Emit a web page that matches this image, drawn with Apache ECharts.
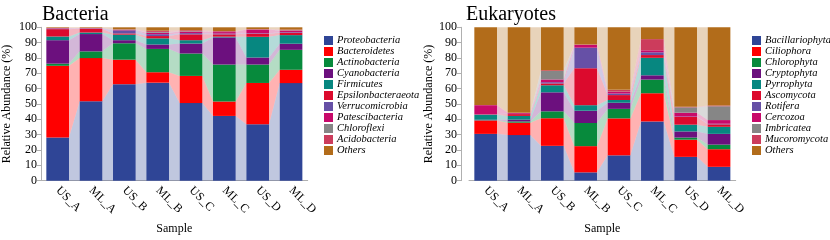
<!DOCTYPE html>
<html>
<head>
<meta charset="utf-8">
<title>Bacteria / Eukaryotes</title>
<script src="https://cdn.jsdelivr.net/npm/echarts@6/dist/echarts.min.js"></script>
<style>
    html, body { margin: 0; padding: 0; background: #fff; }
    #chart { width: 830px; height: 240px; }
</style>
</head>
<body>
<div id="chart"></div>
<script>
var samples = [ 'US_A', 'ML_A', 'US_B', 'ML_B', 'US_C', 'ML_C', 'US_D', 'ML_D' ];
var yTicks = [ 0, 10, 20, 30, 40, 50, 60, 70, 80, 90, 100 ];

// bacteria, % per sample
var bacNames = [ 'Proteobacteria', 'Bacteroidetes', 'Actinobacteria', 'Cyanobacteria', 'Firmicutes',
    'Epsilonbacteraeota', 'Verrucomicrobia', 'Patescibacteria', 'Chloroflexi', 'Acidobacteria', 'Others' ];
var proteobacteria = [ 28.1, 51.8, 62.9, 63.9, 50.6, 42.2, 36.7, 63.6 ];
var bacteroidetes = [ 46.8, 28.1, 16.0, 6.8, 17.7, 9.4, 27.0, 8.7 ];
var actinobacteria = [ 1.4, 4.4, 10.7, 15.2, 14.6, 24.1, 12.0, 13.0 ];
var cyanobacteria = [ 15.3, 11.3, 2.0, 2.9, 6.5, 17.7, 4.6, 4.0 ];
var firmicutes = [ 2.4, 1.0, 3.6, 4.0, 2.2, 0.5, 13.5, 5.6 ];
var epsilonbacteraeota = [ 4.8, 2.4, 0.8, 1.5, 3.8, 1.5, 2.0, 1.5 ];
var verrucomicrobia = [ 0.3, 0.2, 2.0, 1.2, 0.8, 0.5, 0.3, 0.4 ];
var patescibacteria = [ 0.3, 0.2, 0.3, 1.0, 1.0, 1.0, 2.4, 1.0 ];
var chloroflexi = [ 0.1, 0.1, 0.2, 0.5, 0.3, 0.2, 0.1, 0.2 ];
var acidobacteria = [ 0.1, 0.1, 0.2, 0.8, 0.6, 0.5, 0.2, 0.5 ];
var bacOthers = [ 0.4, 0.4, 1.3, 2.2, 1.9, 2.4, 1.2, 1.5 ];

// eukaryotes, % per sample
var eukNames = [ 'Bacillariophyta', 'Ciliophora', 'Chlorophyta', 'Cryptophyta', 'Pyrrophyta',
    'Ascomycota', 'Rotifera', 'Cercozoa', 'Imbricatea', 'Mucoromycota', 'Others ' ];
var bacillariophyta = [ 30.5, 29.7, 22.7, 5.4, 16.5, 38.6, 15.5, 9.0 ];
var ciliophora = [ 8.7, 8.1, 18.0, 17.1, 24.1, 18.4, 11.2, 11.5 ];
var chlorophyta = [ 0.2, 0.8, 4.5, 15.1, 6.2, 8.9, 1.4, 3.0 ];
var cryptophyta = [ 0.3, 1.2, 12.4, 8.0, 4.0, 2.8, 4.0, 7.0 ];
var pyrrophyta = [ 3.2, 2.4, 4.6, 3.6, 1.8, 11.4, 4.4, 4.6 ];
var ascomycota = [ 0.3, 1.2, 1.2, 24.1, 3.2, 1.8, 5.0, 1.6 ];
var rotifera = [ 0.2, 0.2, 0.8, 13.4, 1.0, 1.8, 0.3, 0.4 ];
var cercozoa = [ 5.8, 0.6, 1.8, 1.8, 1.0, 1.3, 2.5, 2.4 ];
var imbricatea = [ 0, 0, 5.5, 0, 0.2, 0, 3.5, 9.0 ];
var mucoromycota = [ 0.2, 0, 0.5, 0.3, 1.2, 7.3, 0.4, 0.5 ];
var eukOthers = [ 50.6, 55.8, 28.0, 11.2, 40.8, 7.7, 51.8, 51.0 ];

var bacSeries = [ proteobacteria, bacteroidetes, actinobacteria, cyanobacteria, firmicutes,
    epsilonbacteraeota, verrucomicrobia, patescibacteria, chloroflexi, acidobacteria, bacOthers ];
var eukSeries = [ bacillariophyta, ciliophora, chlorophyta, cryptophyta, pyrrophyta,
    ascomycota, rotifera, cercozoa, imbricatea, mucoromycota, eukOthers ];

var palette = [ '#2f4596', '#ff0000', '#078a3c', '#6c107e', '#078780', '#dc0a2d',
    '#6650a6', '#c8096a', '#868686', '#cc3c5c', '#b26c1a' ];

var SERIF = "'Liberation Serif', 'DejaVu Serif', serif";
var BAR_FRAC = 0.68;

var stackChart = {
    /**
     * connecting bands between neighbouring bars
     */
    bands : function(list) {
        var rows = [];
        var base = samples.map(function() { return 0; });
        var tops = [];
        for (var k = 0; k < list.length; k++) {
            var bot = base.slice();
            for (var i = 0; i < samples.length; i++) {
                base[i] += list[k][i];
            }
            tops.push({ bot : bot, top : base.slice() });
        }
        for (var k = 0; k < tops.length; k++) {
            for (var i = 0; i < samples.length - 1; i++) {
                rows.push([ i, tops[k].bot[i], tops[k].top[i], tops[k].bot[i + 1], tops[k].top[i + 1], k ]);
            }
        }
        return rows;
    },
    renderBand : function(params, api) {
        var i = api.value(0);
        var half = api.size([ 1, 0 ])[0] * BAR_FRAC / 2;
        var a0 = api.coord([ i, api.value(1) ]);
        var a1 = api.coord([ i, api.value(2) ]);
        var b0 = api.coord([ i + 1, api.value(3) ]);
        var b1 = api.coord([ i + 1, api.value(4) ]);
        return {
            type : 'polygon',
            shape : {
                points : [ [ a0[0] + half, a0[1] ], [ a1[0] + half, a1[1] ],
                    [ b1[0] - half, b1[1] ], [ b0[0] - half, b0[1] ] ]
            },
            style : { fill : palette[api.value(5)], opacity : 0.3 }
        };
    },
    xAxis : function(idx) {
        return {
            type : 'category',
            gridIndex : idx,
            data : samples,
            name : 'Sample',
            nameLocation : 'middle',
            nameGap : 41,
            nameTextStyle : { fontFamily : SERIF, fontSize : 12, color : '#000' },
            axisLine : { lineStyle : { color : '#b0b0b0' } },
            axisTick : { show : false },
            axisLabel : { rotate : -45, margin : 8, fontFamily : SERIF, fontSize : 12, color : '#000' }
        };
    },
    yAxis : function(idx, offset, gap) {
        return {
            type : 'value',
            gridIndex : idx,
            min : yTicks[0],
            max : yTicks[yTicks.length - 1],
            interval : 10,
            offset : offset,
            name : 'Relative Abundance (%)',
            nameLocation : 'middle',
            nameGap : gap,
            nameTextStyle : { fontFamily : SERIF, fontSize : 12, color : '#000' },
            axisLine : { show : true, lineStyle : { color : '#b0b0b0' } },
            axisTick : { show : true, length : 4, lineStyle : { color : '#b0b0b0' } },
            axisLabel : { margin : 4, fontFamily : SERIF, fontSize : 12, color : '#000' },
            splitLine : { show : false }
        };
    },
    legend : function(names, left) {
        return {
            orient : 'vertical',
            left : left,
            top : 30,
            itemWidth : 9,
            itemHeight : 9,
            itemGap : 0,
            icon : 'rect',
            data : names,
            textStyle : { fontFamily : SERIF, fontStyle : 'italic', fontSize : 10.5, lineHeight : 9.5, color : '#000', padding : [ 0, 0, 0, -1 ] }
        };
    },
    init : function() {
        var chart = echarts.init(document.getElementById('chart'), null, { renderer : 'canvas' });
        var series = [];
        for (var k = 0; k < bacNames.length; k++) {
            series.push({
                type : 'bar', name : bacNames[k], stack : 'bac', xAxisIndex : 0, yAxisIndex : 0,
                barWidth : (BAR_FRAC * 100) + '%', itemStyle : { color : palette[k] },
                data : bacSeries[k]
            });
        }
        for (var k = 0; k < eukNames.length; k++) {
            series.push({
                type : 'bar', name : eukNames[k], stack : 'euk', xAxisIndex : 1, yAxisIndex : 1,
                barWidth : (BAR_FRAC * 100) + '%', itemStyle : { color : palette[k] },
                data : eukSeries[k]
            });
        }
        series.push({
            type : 'custom', xAxisIndex : 0, yAxisIndex : 0, silent : true, z : 1,
            renderItem : this.renderBand, encode : { x : 0, y : [ 1, 2, 3, 4 ] },
            data : this.bands(bacSeries)
        });
        series.push({
            type : 'custom', xAxisIndex : 1, yAxisIndex : 1, silent : true, z : 1,
            renderItem : this.renderBand, encode : { x : 0, y : [ 1, 2, 3, 4 ] },
            data : this.bands(eukSeries)
        });

        var option = {
            animation : false,
            title : [
                { text : 'Bacteria', left : 37, top : 0, textStyle : { fontFamily : SERIF, fontSize : 20, fontWeight : 'normal', color : '#000' } },
                { text : 'Eukaryotes', left : 461, top : 0, textStyle : { fontFamily : SERIF, fontSize : 20, fontWeight : 'normal', color : '#000' } }
            ],
            legend : [ this.legend(bacNames, 319), this.legend(eukNames, 747) ],
            grid : [
                { left : 41, top : 27.3, width : 266.7, height : 166 },
                { left : 469, top : 27.3, width : 266.7, height : 166 }
            ],
            xAxis : [ this.xAxis(0), this.xAxis(1) ],
            yAxis : [ this.yAxis(0, 0, 28), this.yAxis(1, 8, 24) ],
            series : series
        };
        chart.setOption(option);
    }
};

stackChart.init();
</script>
</body>
</html>
